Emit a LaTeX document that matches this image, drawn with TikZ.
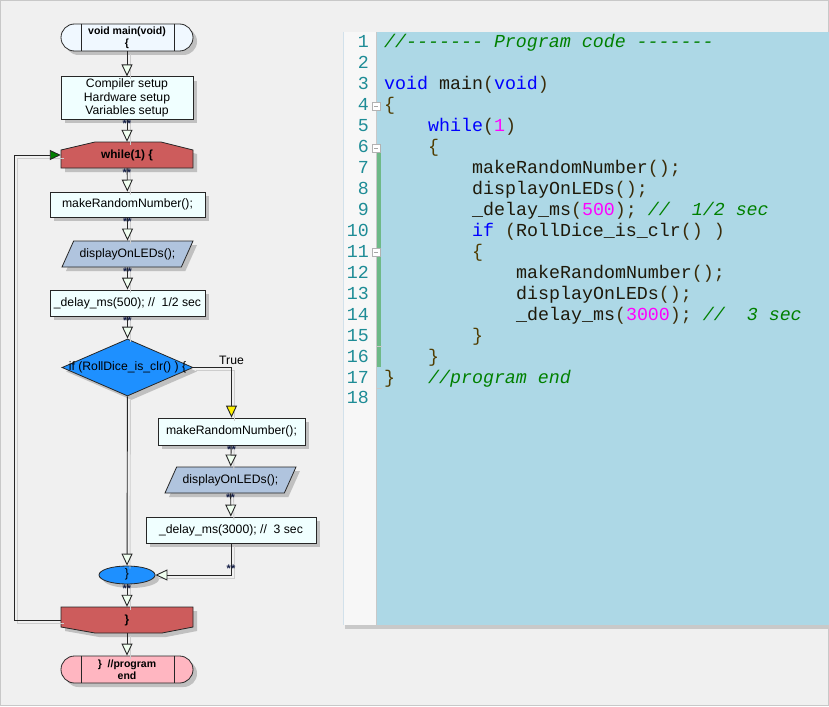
\documentclass[tikz,border=0pt]{standalone}
\usepackage{fontspec}
\setmainfont{Liberation Sans}
\setmonofont{Liberation Mono}
\usepackage{tikz}
\usetikzlibrary{shapes,shapes.geometric,arrows.meta,positioning,shadows}

\definecolor{panelgrey}{RGB}{240,240,240}
\definecolor{framegrey}{RGB}{200,200,200}
\definecolor{shadowgrey}{RGB}{192,192,192}
\definecolor{lineshade}{RGB}{205,205,205}
\definecolor{tipwhite}{RGB}{240,255,240}
\definecolor{procfill}{RGB}{240,255,255}
\definecolor{startfill}{RGB}{240,248,255}
\definecolor{parafill}{RGB}{176,196,222}
\definecolor{condfill}{RGB}{30,144,255}
\definecolor{loopfill}{RGB}{205,92,92}
\definecolor{stopfill}{RGB}{255,182,193}
\definecolor{loopgreen}{RGB}{0,128,0}
\definecolor{markblue}{RGB}{20,30,70}
\definecolor{gutterfill}{RGB}{247,247,247}
\definecolor{gutteredge}{RGB}{210,225,235}
\definecolor{gutterline}{RGB}{200,200,200}
\definecolor{codebg}{RGB}{173,216,230}
\definecolor{barfill}{RGB}{201,201,201}
\definecolor{changegreen}{RGB}{110,185,135}
\definecolor{lnteal}{RGB}{30,140,150}
\definecolor{codeblue}{RGB}{0,0,255}
\definecolor{codemag}{RGB}{255,0,255}
\definecolor{cmtgreen}{RGB}{0,128,0}
\definecolor{copdark}{RGB}{60,45,10}
\definecolor{cbrbrown}{RGB}{80,60,0}
\definecolor{codeink}{RGB}{30,25,10}

% code colouring
\newcommand{\ckw}[1]{\textcolor{codeblue}{#1}}
\newcommand{\cnum}[1]{\textcolor{codemag}{#1}}
\newcommand{\ccmt}[1]{{\itshape\color{cmtgreen}#1}}
\newcommand{\cop}[1]{\textcolor{copdark}{#1}}
\newcommand{\cbr}[1]{\textcolor{cbrbrown}{#1}}

\tikzset{
  flowline/.style={draw=black!85, line width=0.9pt,
    preaction={draw=lineshade, line width=0.9pt, arrows=-,
      transform canvas={shift={(3pt,-3pt)}}}},
  flowarrow/.style={flowline, -{Triangle[length=12pt,width=11pt,fill=tipwhite]}},
  boxshadow/.style={drop shadow={shadow xshift=4pt,shadow yshift=-4pt,fill=shadowgrey,opacity=1}},
  proc/.style={draw=black!85, line width=0.8pt, fill=procfill, boxshadow,
    minimum height=25pt, inner sep=2pt, align=center},
  terminal/.style={rectangle, rounded corners=13.5pt, draw=black!85, line width=0.8pt,
    boxshadow, minimum width=132pt, minimum height=27pt, inner sep=1pt, align=center,
    font=\bfseries\fontsize{10.5}{12}\selectfont},
  io/.style={trapezium, trapezium left angle=55, trapezium right angle=125,
    trapezium stretches=true, draw=black!85, line width=0.8pt, fill=parafill, boxshadow,
    minimum width=131pt, minimum height=26pt, inner sep=2pt},
  decision/.style={diamond, draw=black!85, line width=0.8pt, fill=condfill, boxshadow,
    minimum width=131pt, minimum height=57pt, inner sep=0pt},
  joint/.style={ellipse, draw=black!85, line width=0.8pt, fill=condfill, boxshadow,
    minimum width=56pt, minimum height=18pt, inner sep=0pt, text height=5pt, text depth=1pt},
  looptext/.style={minimum width=132pt, minimum height=26pt, inner sep=0pt,
    font=\bfseries\fontsize{11.8}{13}\selectfont},
  starlbl/.style={inner sep=0pt, text=markblue, font=\bfseries\fontsize{11}{11}\selectfont},
  codeline/.style={anchor=base west, inner sep=0pt, text=codeink,
    font=\ttfamily\fontsize{18.3}{20}\selectfont},
  lnum/.style={anchor=base east, inner sep=0pt, text=lnteal,
    font=\ttfamily\fontsize{18.3}{20}\selectfont}
}

\begin{document}
\begin{tikzpicture}[x=1pt, y=-1pt, font=\fontsize{12.2}{13.5}\selectfont]
  \useasboundingbox (0,0) rectangle (829,706);
  \fill[panelgrey] (0,0) rectangle (829,706);
  \draw[framegrey, line width=1pt] (0.5,0.5) rectangle (828.5,705.5);

  % editor panel
  \fill[gutterfill] (343,32) rectangle (377,625);
  \fill[codebg] (377,32) rectangle (829,625);
  \draw[gutteredge, line width=1pt] (343,32) -- (343,625);
  \draw[gutterline, line width=0.8pt] (376.5,32) -- (376.5,625);
  \fill[barfill] (345,625) rectangle (829,629);
  \fill[changegreen] (377,153) rectangle (380.5,367);
  \draw[gutterline] (377,346) -- (382,346);
  \draw[gutterline] (377,388) -- (382,388);
  \draw[gray!60, fill=white] (372,102) rectangle (380,110);
  \draw[gray!70] (374,106) -- (378,106);
  \draw[gray!60, fill=white] (372,144) rectangle (380,152);
  \draw[gray!70] (374,148) -- (378,148);
  \draw[gray!60, fill=white] (372,248.5) rectangle (380,256.5);
  \draw[gray!70] (374,252.5) -- (378,252.5);

  \foreach \n in {1,...,18}
    \node[lnum] (ln\n) at (369,{48+(\n-1)*20.94}) {\n};

  \node[codeline] (c1) at (384,48) {\ccmt{//-------~Program~code~-------}};
  \node[codeline] (c3) at (384,89.88) {\ckw{void}~main\cop{(}\ckw{void}\cop{)}};
  \node[codeline] (c4) at (384,110.82) {\cbr{\{}};
  \node[codeline] (c5) at (428,131.76) {\ckw{while}\cop{(}\cnum{1}\cop{)}};
  \node[codeline] (c6) at (428,152.7) {\cbr{\{}};
  \node[codeline] (c7) at (472,173.64) {makeRandomNumber\cop{();}};
  \node[codeline] (c8) at (472,194.58) {displayOnLEDs\cop{();}};
  \node[codeline] (c9) at (472,215.52) {\_delay\_ms\cop{(}\cnum{500}\cop{);}~\ccmt{//~~1/2~sec}};
  \node[codeline] (c10) at (472,236.46) {\ckw{if}~\cop{(}RollDice\_is\_clr\cop{()~)}};
  \node[codeline] (c11) at (472,257.4) {\cbr{\{}};
  \node[codeline] (c12) at (516,278.34) {makeRandomNumber\cop{();}};
  \node[codeline] (c13) at (516,299.28) {displayOnLEDs\cop{();}};
  \node[codeline] (c14) at (516,320.22) {\_delay\_ms\cop{(}\cnum{3000}\cop{);}~\ccmt{//~~3~sec}};
  \node[codeline] (c15) at (472,341.16) {\cbr{\}}};
  \node[codeline] (c16) at (428,362.1) {\cbr{\}}};
  \node[codeline] (c17) at (384,383.04) {\cbr{\}}~~~\ccmt{//program~end}};

  % flowchart
  \node[terminal, fill=startfill] (start) at (127,37.5) {void main(void)\\\{};
  \draw[draw=black!85, line width=0.8pt] ([xshift=21pt]start.north west) -- ([xshift=21pt]start.south west);
  \draw[draw=black!85, line width=0.8pt] ([xshift=-19pt]start.north east) -- ([xshift=-19pt]start.south east);

  \node[proc, minimum width=132pt, minimum height=40pt] (setup) at (127,98)
    {Compiler setup\\Hardware setup\\Variables setup};

  \fill[shadowgrey] (65,172) -- (65,154) -- (99,146) -- (165,146) -- (197,154) -- (197,172) -- cycle;
  \filldraw[draw=black!85, line width=0.8pt, fill=loopfill]
    (61,168) -- (61,150) -- (95,142) -- (161,142) -- (193,150) -- (193,168) -- cycle;
  \node[looptext] (loop) at (127,155) {while(1) \{};

  \node[proc, minimum width=155pt] (rnd1) at (127.5,204.5) {makeRandomNumber();};
  \node[io] (disp1) at (127.5,254) {displayOnLEDs();};
  \node[proc, minimum width=155pt, minimum height=26pt] (wait1) at (127.5,303)
    {\_delay\_ms(500); //\ \ 1/2 sec};

  \node[decision] (cond) at (127.5,367.5) {};
  \node[inner sep=0pt] (condtext) at (cond.center) {if (RollDice\_is\_clr() ) \{};

  \node[proc, minimum width=147pt, minimum height=27pt] (rnd2) at (231.5,431.5) {makeRandomNumber();};
  \node[io] (disp2) at (230.5,480) {displayOnLEDs();};
  \node[proc, minimum width=170pt, minimum height=26pt] (wait2) at (231,530)
    {\_delay\_ms(3000); //\ \ 3 sec};

  \node[joint] (endif) at (127,575) {\}};

  \fill[shadowgrey] (65,611) -- (197,611) -- (197,631) -- (166,637) -- (99,637) -- (65,631) -- cycle;
  \filldraw[draw=black!85, line width=0.8pt, fill=loopfill]
    (61,607) -- (193,607) -- (193,627) -- (162,633) -- (95,633) -- (61,627) -- cycle;
  \node[looptext] (endloop) at (127,620) {\}};

  \node[terminal, fill=stopfill] (stop) at (127,669.5) {\}\ \ //program\\end};
  \draw[draw=black!85, line width=0.8pt] ([xshift=21pt]stop.north west) -- ([xshift=21pt]stop.south west);
  \draw[draw=black!85, line width=0.8pt] ([xshift=-19pt]stop.north east) -- ([xshift=-19pt]stop.south east);

  \coordinate (backx) at (14,0);

  % connectors
  \draw[flowarrow] (start) -- (setup);
  \draw[flowarrow] (setup) -- (loop);
  \draw[flowarrow] (loop) -- (rnd1);
  \draw[flowarrow] (rnd1) -- (disp1);
  \draw[flowarrow] (disp1) -- (wait1);
  \draw[flowarrow] (wait1) -- (cond);
  \draw[flowarrow] (cond) -- (endif);
  \draw[flowline, -{Triangle[length=12pt,width=11pt,fill=yellow]}]
    (cond.east) -| node[above, inner sep=2pt] (truelbl) {True} (rnd2.north);
  \draw[flowarrow] (rnd2) -- (disp2);
  \draw[flowarrow] (disp2) -- (wait2);
  \draw[flowarrow] (wait2.south) |- node[starlbl, pos=0.4] (st9) {**} (endif.east);
  \draw[flowarrow] (endif) -- (endloop);
  \draw[flowarrow] (endloop) -- (stop);
  \draw[flowline, -{Triangle[length=11pt,width=10pt,fill=loopgreen]}]
    (endloop.west) -- (endloop.west -| backx) -- (loop.west -| backx) -- (loop.west);

  % star marks
  \node[starlbl, below=0.5pt of setup] (st1) {**};
  \node[starlbl, below=0.5pt of loop] (st2) {**};
  \node[starlbl, below=0.5pt of rnd1] (st3) {**};
  \node[starlbl, below=0.5pt of disp1] (st4) {**};
  \node[starlbl, below=0.5pt of wait1] (st5) {**};
  \node[starlbl, below=0.5pt of rnd2] (st6) {**};
  \node[starlbl, below=0.5pt of disp2] (st7) {**};
  \node[starlbl, below=0.5pt of endif] (st8) {**};
\end{tikzpicture}
\end{document}
